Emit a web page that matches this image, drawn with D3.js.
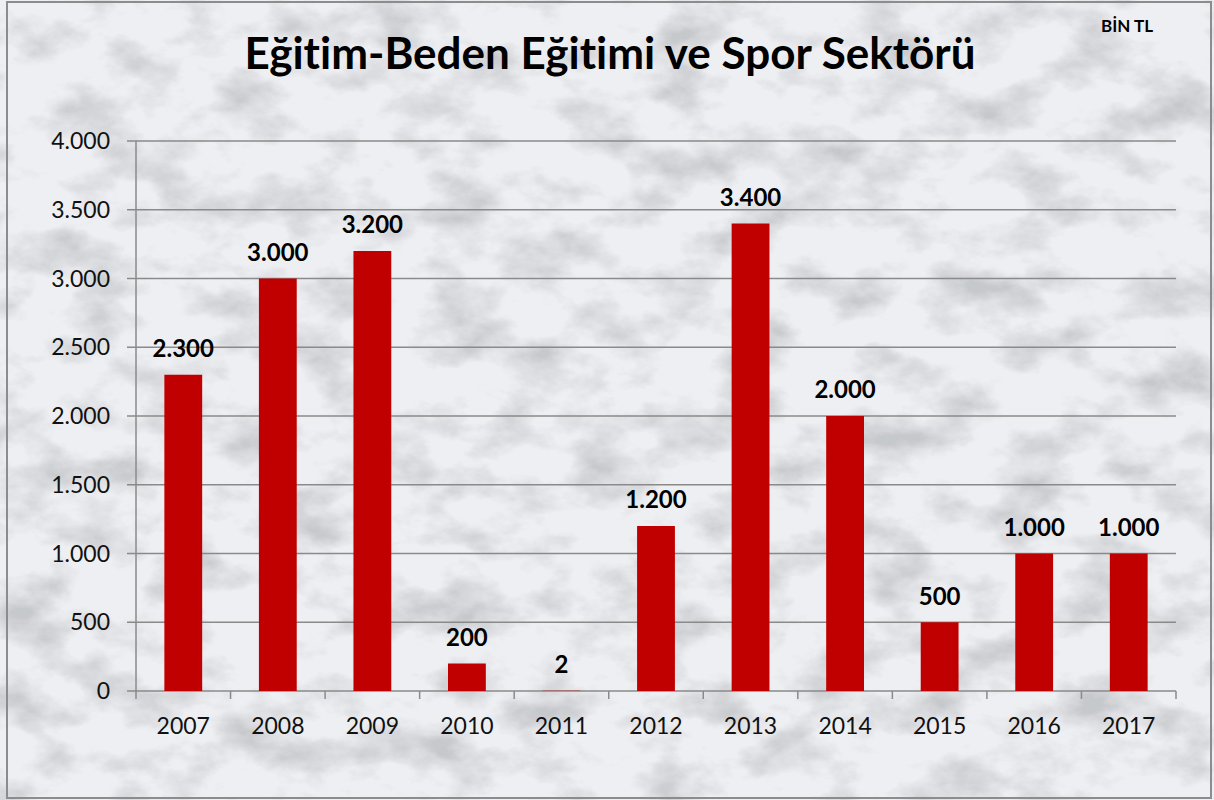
<!DOCTYPE html>
<html>
<head>
<meta charset="utf-8">
<script src="https://cdn.jsdelivr.net/npm/d3@7"></script>
<style>
  body { margin: 0; background: #fff; }
  svg { display: block; }
  text { font-variant-ligatures: none; font-feature-settings: "liga" 0, "clig" 0; }
</style>
</head>
<body>
<div id="chart"></div>
<script>
// data (BİN TL)
const years = ["2007", "2008", "2009", "2010", "2011", "2012", "2013", "2014", "2015", "2016", "2017"];
const values = [2300, 3000, 3200, 200, 2, 1200, 3400, 2000, 500, 1000, 1000];
const yTicks = [0, 500, 1000, 1500, 2000, 2500, 3000, 3500, 4000];

const W = 1214, H = 800;
const plot = { left: 136, right: 1176, top: 141, bottom: 691 };
const font = "Lato, 'Open Sans', sans-serif";

// number format with dot thousands separator
const fmt = v => d3.format(",")(v).replace(/,/g, ".");

const svg = d3.select("#chart").append("svg")
    .attr("width", W)
    .attr("height", H);

// marble-ish background
const defs = svg.append("defs");
const filt = defs.append("filter").attr("id", "marble")
    .attr("x", 0).attr("y", 0).attr("width", "100%").attr("height", "100%");
filt.append("feTurbulence")
    .attr("type", "fractalNoise")
    .attr("baseFrequency", "0.014 0.022")
    .attr("numOctaves", 5)
    .attr("seed", 7)
    .attr("result", "noise");
filt.append("feColorMatrix")
    .attr("in", "noise")
    .attr("type", "matrix")
    .attr("values", "0 0 0 0 0.42  0 0 0 0 0.43  0 0 0 0 0.45  -2.6 0 0 0 1.45")
    .attr("result", "veins");
filt.append("feComposite").attr("in", "veins").attr("in2", "SourceGraphic").attr("operator", "in");

svg.append("rect")
    .attr("x", 0).attr("y", 0).attr("width", W).attr("height", H)
    .attr("fill", "#eeeff2");
svg.append("rect")
    .attr("x", 0).attr("y", 0).attr("width", W).attr("height", H)
    .attr("fill", "#fff")
    .attr("opacity", 0.6)
    .attr("filter", "url(#marble)");

// outer border
svg.append("rect")
    .attr("x", 7).attr("y", 2).attr("width", W - 10).attr("height", H - 4)
    .attr("fill", "none")
    .attr("stroke", "#8c8c8c")
    .attr("stroke-width", 2);

// scales
const x = d3.scaleBand()
    .domain(years)
    .range([plot.left, plot.right])
    .paddingInner(0.6)
    .paddingOuter(0.3);

const y = d3.scaleLinear()
    .domain([0, 4000])
    .range([plot.bottom, plot.top]);

// gridlines
svg.append("g")
    .selectAll("line")
    .data(yTicks)
    .join("line")
    .attr("x1", plot.left - 9)
    .attr("x2", plot.right)
    .attr("y1", d => y(d))
    .attr("y2", d => y(d))
    .attr("stroke", "#8a8a8a")
    .attr("stroke-width", 1.5);

// y axis line
svg.append("line")
    .attr("x1", plot.left).attr("x2", plot.left)
    .attr("y1", plot.top).attr("y2", plot.bottom)
    .attr("stroke", "#8a8a8a")
    .attr("stroke-width", 1.5);

// y tick labels
svg.append("g")
    .selectAll("text")
    .data(yTicks)
    .join("text")
    .attr("x", 110)
    .attr("y", d => y(d))
    .attr("dy", "0.35em")
    .attr("text-anchor", "end")
    .attr("font-family", font)
    .attr("font-size", 23)
    .attr("fill", "#111")
    .text(fmt);

// x axis ticks at category boundaries
const bounds = d3.range(years.length + 1).map(i => plot.left + i * (plot.right - plot.left) / years.length);
svg.append("g")
    .selectAll("line")
    .data(bounds)
    .join("line")
    .attr("x1", d => d).attr("x2", d => d)
    .attr("y1", plot.bottom).attr("y2", plot.bottom + 8)
    .attr("stroke", "#8a8a8a")
    .attr("stroke-width", 1.5);

// x tick labels
svg.append("g")
    .selectAll("text")
    .data(years)
    .join("text")
    .attr("x", d => x(d) + x.bandwidth() / 2)
    .attr("y", 726)
    .attr("dy", "0.35em")
    .attr("text-anchor", "middle")
    .attr("font-family", font)
    .attr("font-size", 23)
    .attr("fill", "#111")
    .text(d => d);

// bars
svg.append("g")
    .selectAll("rect")
    .data(values)
    .join("rect")
    .attr("x", (d, i) => x(years[i]))
    .attr("y", d => y(d))
    .attr("width", x.bandwidth())
    .attr("height", d => y(0) - y(d))
    .attr("fill", "#c00000");

// value labels
svg.append("g")
    .selectAll("text")
    .data(values)
    .join("text")
    .attr("x", (d, i) => x(years[i]) + x.bandwidth() / 2)
    .attr("y", d => y(d) - 26)
    .attr("dy", "0.35em")
    .attr("text-anchor", "middle")
    .attr("font-family", font)
    .attr("font-weight", "bold")
    .attr("font-size", 24)
    .attr("fill", "#000")
    .text(fmt);

// title
svg.append("text")
    .attr("x", 610)
    .attr("y", 54)
    .attr("dy", "0.35em")
    .attr("text-anchor", "middle")
    .attr("font-family", font)
    .attr("font-weight", "bold")
    .attr("font-size", 44)
    .attr("fill", "#000")
    .text("Eğitim-Beden Eğitimi ve Spor Sektörü");

svg.append("text")
    .attr("x", 1153)
    .attr("y", 26)
    .attr("dy", "0.35em")
    .attr("text-anchor", "end")
    .attr("font-family", font)
    .attr("font-weight", "bold")
    .attr("font-size", 17)
    .attr("fill", "#000")
    .text("BİN TL");
</script>
</body>
</html>
